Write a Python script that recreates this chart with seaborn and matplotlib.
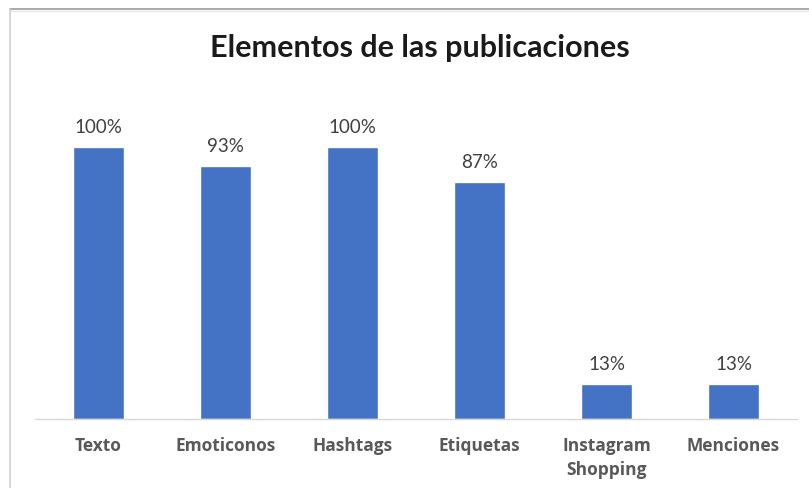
import matplotlib
matplotlib.use("Agg")
import matplotlib.pyplot as plt
from matplotlib.lines import Line2D
import seaborn as sns
import pandas as pd

# Chart data
categories = ["Texto", "Emoticonos", "Hashtags", "Etiquetas", "Instagram\nShopping", "Menciones"]
shares = [1.00, 0.93, 1.00, 0.87, 0.13, 0.13]
title = "Elementos de las publicaciones"

BAR_BLUE = "#4472C4"
W, H = 809, 488

sns.set_theme(style="white")
plt.rcParams["font.family"] = ["Lato", "DejaVu Sans"]

df = pd.DataFrame({"elemento": categories, "porcentaje": shares})

fig = plt.figure(figsize=(W / 100, H / 100), dpi=100)
fig.patch.set_facecolor("white")

# plot area in pixel terms: x 35..797, baseline at y=419, 100% at y=147
left_px, right_px = 35, 797
base_px = 419
ymax = 1.2
height_px = (419 - 147) * ymax
ax = fig.add_axes([left_px / W, (H - base_px) / H,
                   (right_px - left_px) / W, height_px / H])

sns.barplot(data=df, x="elemento", y="porcentaje", color=BAR_BLUE,
            saturation=1, width=0.4, ax=ax)

ax.set_xlim(-0.5, len(categories) - 0.5)
ax.set_ylim(0, ymax)
ax.set_xlabel("")
ax.set_ylabel("")
ax.set_yticks([])
for side in ("top", "right", "left"):
    ax.spines[side].set_visible(False)
ax.spines["bottom"].set_color("#D9D9D9")
ax.spines["bottom"].set_linewidth(1.0)
ax.tick_params(axis="x", length=0, pad=13)
for lbl in ax.get_xticklabels():
    lbl.set_family(["Open Sans", "DejaVu Sans"])
    lbl.set_fontsize(12.5)
    lbl.set_fontweight("bold")
    lbl.set_color("#595959")
    lbl.set_linespacing(1.4)

# value labels above each bar
for i, v in enumerate(shares):
    ax.annotate(f"{v:.0%}", xy=(i, v), xytext=(0, 10), textcoords="offset points",
                ha="center", va="baseline", fontsize=13.5, color="#404040")

fig.text(420 / W, (H - 57) / H, title, ha="center", va="baseline",
         fontsize=22, fontweight="bold", color="#1a1a1a")

# chart frame edges
fig.add_artist(Line2D([10 / W, 1.0], [(H - 8.5) / H] * 2, color="#9a9a9a", lw=1.2,
                      transform=fig.transFigure))
fig.add_artist(Line2D([10 / W, 1.0], [(H - 10.5) / H] * 2, color="#e6e6e6", lw=1.0,
                      transform=fig.transFigure))
fig.add_artist(Line2D([10 / W] * 2, [0, (H - 8.5) / H], color="#cfcfcf", lw=1.2,
                      transform=fig.transFigure))

fig.savefig("out.png", dpi=100)
